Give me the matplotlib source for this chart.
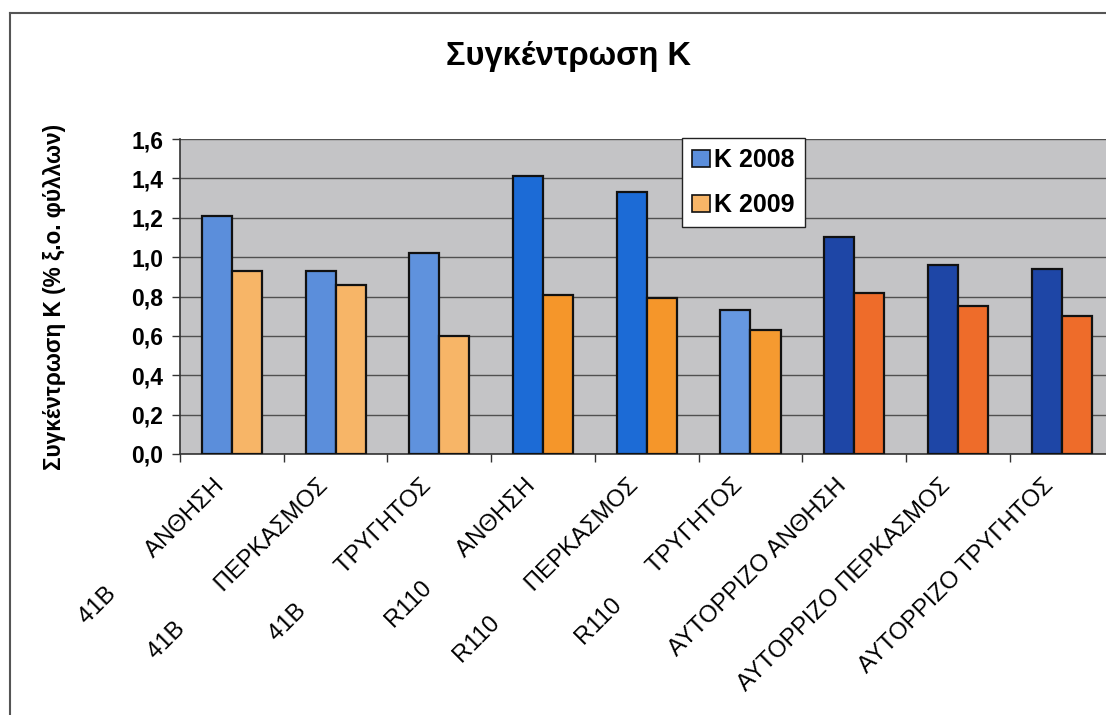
import numpy as np
import matplotlib
matplotlib.use("Agg")
import matplotlib.pyplot as plt
from matplotlib.patches import Patch
from matplotlib.ticker import FuncFormatter
import matplotlib.transforms as mtransforms

plt.rcParams['font.family'] = ['Liberation Sans', 'DejaVu Sans']

# --- data -------------------------------------------------------------
categories = [
    "41B        ΑΝΘΗΣΗ",
    "41B        ΠΕΡΚΑΣΜΟΣ",
    "41B        ΤΡΥΓΗΤΟΣ",
    "R110       ΑΝΘΗΣΗ",
    "R110       ΠΕΡΚΑΣΜΟΣ",
    "R110       ΤΡΥΓΗΤΟΣ",
    "ΑΥΤΟΡΡΙΖΟ ΑΝΘΗΣΗ",
    "ΑΥΤΟΡΡΙΖΟ ΠΕΡΚΑΣΜΟΣ",
    "ΑΥΤΟΡΡΙΖΟ ΤΡΥΓΗΤΟΣ",
]
k_2008 = [1.21, 0.93, 1.02, 1.41, 1.33, 0.73, 1.10, 0.96, 0.94]
k_2009 = [0.93, 0.86, 0.60, 0.81, 0.79, 0.63, 0.82, 0.75, 0.70]
series_names = ["K 2008", "K 2009"]
y_ticks = [0.0, 0.2, 0.4, 0.6, 0.8, 1.0, 1.2, 1.4, 1.6]

# per-bar fill colours (each rootstock/stage pair has its own shade)
colors_2008 = ["#5b8edb", "#5b8edb", "#5f92dd",
               "#1c6bd6", "#1c6bd6", "#6698e0",
               "#1e46a6", "#1e46a6", "#1e46a6"]
colors_2009 = ["#f7b567", "#f7b567", "#f7b567",
               "#f5962a", "#f5962a", "#f59a30",
               "#ee6c2a", "#ee6c2a", "#ee6c2a"]

# --- figure -----------------------------------------------------------
W, H = 1106, 715
fig = plt.figure(figsize=(W / 100, H / 100), dpi=100)
fig.patch.set_facecolor("white")

# outer chart border (left and top edges)
fig.add_artist(plt.Line2D([10 / W, 10 / W], [0, 1 - 13 / H],
                          transform=fig.transFigure, color="#555555", lw=1.5))
fig.add_artist(plt.Line2D([10 / W, 1], [1 - 13 / H, 1 - 13 / H],
                          transform=fig.transFigure, color="#555555", lw=1.5))

x0, x1 = 180, 1113.5
y_top, y_bot = 139, 454
ax = fig.add_axes([x0 / W, 1 - y_bot / H, (x1 - x0) / W, (y_bot - y_top) / H])
ax.set_facecolor("#c4c4c6")

x = np.arange(len(categories))
bw = 0.29
ax.bar(x - bw / 2, k_2008, width=bw, color=colors_2008,
       edgecolor="#111111", linewidth=1.6, zorder=3)
ax.bar(x + bw / 2, k_2009, width=bw, color=colors_2009,
       edgecolor="#111111", linewidth=1.6, zorder=3)

ax.set_xlim(-0.5, len(categories) - 0.5)
ax.set_ylim(0, 1.6)
ax.set_yticks(y_ticks)
ax.yaxis.set_major_formatter(FuncFormatter(lambda v, p: f"{v:.1f}".replace(".", ",")))
ax.yaxis.grid(True, color="#505050", linewidth=1.0, zorder=0)
ax.set_axisbelow(True)

for s in ("top", "right"):
    ax.spines[s].set_visible(False)
for s in ("left", "bottom"):
    ax.spines[s].set_color("#333333")
    ax.spines[s].set_linewidth(1.2)

ax.tick_params(axis="y", direction="out", length=6, width=1, color="#333333",
               labelsize=16.5, pad=6)
for lab in ax.get_yticklabels():
    lab.set_fontweight("bold")

# category boundaries carry the tick marks, centres carry the labels
ax.set_xticks(np.arange(-0.5, len(categories), 1.0), minor=True)
ax.tick_params(axis="x", which="minor", direction="out", length=6, width=1,
               color="#333333")
ax.set_xticks(x)
ax.set_xticklabels(categories, rotation=45, ha="right", va="top",
                   rotation_mode="anchor", fontsize=17.2)
ax.tick_params(axis="x", which="major", length=0, pad=15)
shift = mtransforms.ScaledTranslation(-19 / 100, 0, fig.dpi_scale_trans)
for lab in ax.get_xticklabels():
    lab.set_transform(lab.get_transform() + shift)

# title and axis label
fig.text(568 / W, 1 - 57 / H, "Συγκέντρωση Κ", ha="center", va="center",
         fontsize=23.5, fontweight="bold")
fig.text(55 / W, 1 - 297 / H, "Συγκέντρωση Κ (% ξ.ο. φύλλων)", ha="center",
         va="center", rotation=90, fontsize=16.3, fontweight="bold")

# legend
handles = [Patch(facecolor="#5b8edb", edgecolor="#111111", linewidth=1.2),
           Patch(facecolor="#f7b567", edgecolor="#111111", linewidth=1.2)]
leg = fig.legend(handles, series_names, loc="upper left",
                 bbox_to_anchor=(682 / W, 1 - 138 / H),
                 bbox_transform=fig.transFigure, borderaxespad=0,
                 prop={"size": 18, "weight": "bold"},
                 frameon=True, fancybox=False, framealpha=1,
                 edgecolor="#222222", handlelength=0.7, handleheight=0.7,
                 handletextpad=0.2, labelspacing=0.85, borderpad=0.4)
leg.get_frame().set_linewidth(1.0)

fig.savefig("out.png", dpi=100)
